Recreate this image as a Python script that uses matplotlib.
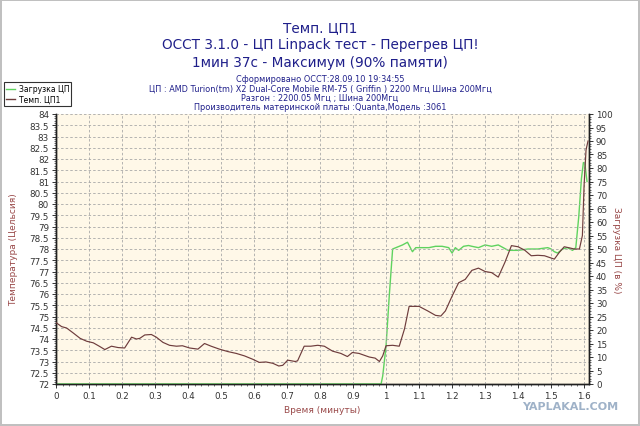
import matplotlib
matplotlib.use("Agg")
import matplotlib.pyplot as plt
from matplotlib.ticker import MultipleLocator
from matplotlib.lines import Line2D

# ---- data ----
temp_time = [0.0, 0.017, 0.032, 0.052, 0.073, 0.093, 0.113, 0.131, 0.148, 0.168,
             0.188, 0.208, 0.229, 0.244, 0.254, 0.269, 0.289, 0.304, 0.324, 0.344,
             0.365, 0.383, 0.405, 0.43, 0.45, 0.47, 0.495, 0.521, 0.546, 0.571,
             0.596, 0.616, 0.636, 0.657, 0.675, 0.687, 0.702, 0.725, 0.732, 0.752,
             0.772, 0.793, 0.813, 0.838, 0.863, 0.883, 0.898, 0.918, 0.949, 0.967,
             0.98, 0.99, 1.0, 1.02, 1.04, 1.056, 1.07, 1.1, 1.126, 1.15,
             1.166, 1.18, 1.2, 1.22, 1.24, 1.26, 1.28, 1.3, 1.32, 1.34,
             1.36, 1.38, 1.4, 1.42, 1.44, 1.46, 1.48, 1.51, 1.525, 1.54,
             1.556, 1.57, 1.586, 1.595, 1.6, 1.606, 1.612]
temp_vals = [74.73, 74.55, 74.49, 74.27, 74.03, 73.9, 73.83, 73.68, 73.53, 73.68,
             73.62, 73.6, 74.08, 74.0, 74.03, 74.18, 74.2, 74.08, 73.85, 73.72,
             73.68, 73.7, 73.6, 73.55, 73.8, 73.68, 73.55, 73.44, 73.36, 73.25,
             73.1, 72.96, 72.98, 72.92, 72.8, 72.83, 73.06, 73.0, 73.03, 73.68,
             73.68, 73.72, 73.68, 73.46, 73.36, 73.22, 73.4, 73.36, 73.2, 73.15,
             73.0, 73.25, 73.7, 73.72, 73.68, 74.45, 75.45, 75.45, 75.25, 75.05,
             75.02, 75.25, 75.9, 76.5, 76.65, 77.05, 77.15, 77.0, 76.95, 76.75,
             77.4, 78.15, 78.1, 77.95, 77.7, 77.72, 77.7, 77.55, 77.85, 78.1,
             78.05, 78.0, 78.0, 78.6, 80.8, 82.4, 82.8]

load_time = [0.0, 0.985, 0.99, 1.0, 1.01, 1.02, 1.03, 1.05, 1.065, 1.08,
             1.09, 1.11, 1.13, 1.15, 1.17, 1.19, 1.2, 1.21, 1.22, 1.235,
             1.25, 1.26, 1.28, 1.3, 1.32, 1.34, 1.355, 1.37, 1.4, 1.43,
             1.46, 1.49, 1.5, 1.51, 1.52, 1.535, 1.55, 1.565, 1.575, 1.584,
             1.592, 1.598, 1.602, 1.605, 1.609]
load_vals = [0, 0, 3, 14, 33, 50, 50.5, 51.5, 52.5, 49,
             50.5, 50.5, 50.5, 51, 51, 50.5, 48.5, 50.5, 49.5, 51,
             51.3, 51, 50.5, 51.5, 51, 51.5, 50.5, 49.5, 49.5, 50,
             50, 50.5, 50, 49, 48.5, 50, 50.5, 49.5, 50.5, 62,
             76, 82, 82, 79, 75]

x_label = "Время (минуты)"
y_left_label = "Температура (Цельсия)"
y_right_label = "Загрузка ЦП (в %)"
titles = ["Темп. ЦП1",
          "ОССТ 3.1.0 - ЦП Linpack тест - Перегрев ЦП!",
          "1мин 37с - Максимум (90% памяти)"]
info_lines = ["Сформировано ОССТ:28.09.10 19:34:55",
              "ЦП : AMD Turion(tm) X2 Dual-Core Mobile RM-75 ( Griffin ) 2200 Мгц Шина 200Мгц",
              "Разгон : 2200.05 Мгц ; Шина 200Мгц",
              "Производитель материнской платы :Quanta,Модель :3061"]
legend_labels = ["Загрузка ЦП", "Темп. ЦП1"]

# ---- style ----
W, H = 640, 427
fig = plt.figure(figsize=(W / 100, H / 100), dpi=100)
fig.patch.set_facecolor("white")
fig.patch.set_edgecolor("#c0c0c0")
fig.patch.set_linewidth(1.5)

L, R, T, B = 56, 589, 115, 385
rect = [L / W, 1 - B / H, (R - L) / W, (B - T) / H]

green = "#5fd35f"
brown = "#6e3c3c"
title_col = "#1f1f8a"
lab_col = "#9a4a4a"
bg = "#fff8e8"
grid_col = "#a8a8a8"

# load axis (right), drawn underneath with the background
ax2 = fig.add_axes(rect)
ax2.set_facecolor(bg)
ax2.set_xlim(0, 1.615)
ax2.set_ylim(0, 100)
ax2.yaxis.tick_right()
ax2.yaxis.set_major_locator(MultipleLocator(5))
ax2.yaxis.set_minor_locator(MultipleLocator(1))
ax2.xaxis.set_visible(False)

# temperature axis (left), on top, carries the grid
ax = fig.add_axes(rect)
ax.patch.set_visible(False)
ax.set_xlim(0, 1.615)
ax.set_ylim(72, 84)
ax.xaxis.set_major_locator(MultipleLocator(0.1))
ax.xaxis.set_minor_locator(MultipleLocator(0.02))
ax.yaxis.set_major_locator(MultipleLocator(0.5))
ax.yaxis.set_minor_locator(MultipleLocator(0.1))
ax.xaxis.set_major_formatter(plt.FuncFormatter(lambda v, p: ("%g" % round(v, 2))))
ax.yaxis.set_major_formatter(plt.FuncFormatter(lambda v, p: ("%g" % v)))
ax.grid(True, which="major", color=grid_col, linestyle=(0, (3, 2.5)),
        linewidth=0.6)
ax.set_axisbelow(True)

for a in (ax, ax2):
    a.spines["top"].set_visible(False)
    for s in ("left", "right", "bottom"):
        a.spines[s].set_color("#202020")
        a.spines[s].set_linewidth(1.0)
    a.tick_params(which="major", length=3, width=0.7, labelsize=6.3,
                  labelcolor="#333333", color="#333333", pad=2)
    a.tick_params(which="minor", length=1.6, width=0.5, color="#333333")
ax.tick_params(axis="y", right=False)

ax2.plot(load_time, load_vals, color=green, lw=1.0, zorder=3)
ax.plot(temp_time, temp_vals, color=brown, lw=0.85, zorder=4)

ax.set_xlabel(x_label, color=lab_col, fontsize=6.5, labelpad=4)
fig.text(14 / W, 1 - 250 / H, y_left_label, rotation=90, color=lab_col,
         fontsize=6.5, ha="center", va="center")
fig.text(617 / W, 1 - 250 / H, y_right_label, rotation=270, color=lab_col,
         fontsize=6.5, ha="center", va="center")

ty = [28, 45, 63]
for t, y in zip(titles, ty):
    fig.text(320 / W, 1 - y / H, t, color=title_col, fontsize=9.8,
             ha="center", va="center")
iy = [79, 89, 98, 107]
for t, y in zip(info_lines, iy):
    fig.text(320 / W, 1 - y / H, t, color=title_col, fontsize=5.9,
             ha="center", va="center")

handles = [Line2D([], [], color=green, lw=1), Line2D([], [], color=brown, lw=1)]
leg = fig.legend(handles, legend_labels, loc="upper left",
                 bbox_to_anchor=(4 / W, 1 - 83 / H), fontsize=5.5,
                 frameon=True, fancybox=False, edgecolor="black",
                 borderpad=0.3, handlelength=1.2, handletextpad=0.4,
                 labelspacing=0.2, borderaxespad=0)
leg.get_frame().set_linewidth(0.8)

fig.text(570 / W, 1 - 407 / H, "YAPLAKAL.COM", color="#9fb2c8",
         fontsize=8, fontweight="bold", ha="center", va="center")

fig.savefig("out.png", dpi=100)
